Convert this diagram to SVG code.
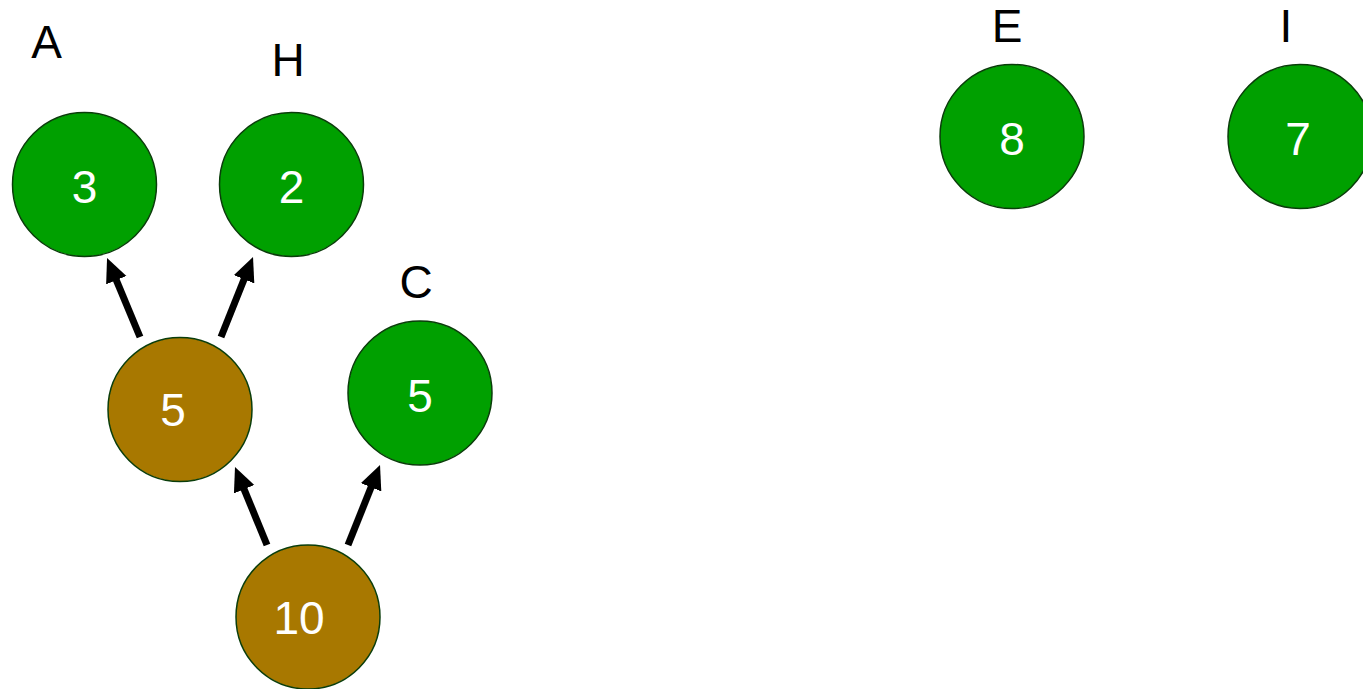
<svg xmlns="http://www.w3.org/2000/svg" width="1363" height="689" viewBox="0 0 1363 689">
<style>
.g{fill:#00a000;stroke:#0a3d0a;stroke-width:1.5}
.b{fill:#a87800;stroke:#0a3d0a;stroke-width:1.5}
.n{font-family:"Liberation Sans",Arial,sans-serif;font-size:46px;fill:#fff;text-anchor:middle}
.l{font-family:"Liberation Sans",Arial,sans-serif;font-size:46px;fill:#000;text-anchor:middle}
.e{stroke:#000;stroke-width:7;fill:none;marker-end:url(#ah)}
</style>
<defs>
<marker id="ah" markerUnits="userSpaceOnUse" markerWidth="26" markerHeight="24" refX="14" refY="11" orient="auto">
<path d="M0,0 L24,11 L0,22 z" fill="#000"/>
</marker>
</defs>
<rect width="1363" height="689" fill="#fff"/>
<g id="connectors">
<line class="e" x1="140" y1="337" x2="110.9" y2="267.2"/>
<line class="e" x1="221" y1="337" x2="249.3" y2="266.3"/>
<line class="e" x1="267" y1="545" x2="238.8" y2="476.3"/>
<line class="e" x1="348" y1="545" x2="376.3" y2="474.3"/>
</g>
<g id="A"><circle class="g" cx="84.5" cy="184.5" r="72"/><text class="n" x="84.5" y="203">3</text><text class="l" x="46.5" y="58">A</text></g>
<g id="H"><circle class="g" cx="291.5" cy="184.5" r="72"/><text class="n" x="291.5" y="203">2</text><text class="l" x="288" y="76">H</text></g>
<g id="C"><circle class="g" cx="420" cy="393" r="72"/><text class="n" x="420" y="412">5</text><text class="l" x="416" y="298">C</text></g>
<g id="mid"><circle class="b" cx="180" cy="409.5" r="72"/><text class="n" x="173" y="426">5</text></g>
<g id="root"><circle class="b" cx="308" cy="617" r="72"/><text class="n" x="299" y="634">10</text></g>
<g id="E"><circle class="g" cx="1012" cy="136.5" r="72"/><text class="n" x="1012" y="155">8</text><text class="l" x="1007" y="42">E</text></g>
<g id="I"><circle class="g" cx="1300" cy="136.5" r="72"/><text class="n" x="1298" y="155">7</text><text class="l" x="1286" y="42">I</text></g>
</svg>
